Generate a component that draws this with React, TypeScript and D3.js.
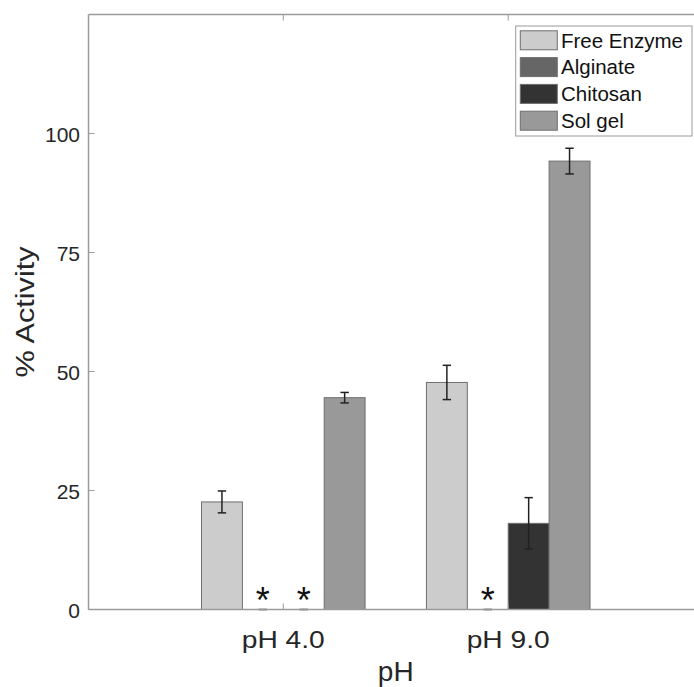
import React from "react";
import * as d3 from "d3";

const categories = ["pH 4.0", "pH 9.0"];
const seriesNames = ["Free Enzyme", "Alginate", "Chitosan", "Sol gel"];
const seriesColors = ["#cccccc", "#666666", "#333333", "#999999"];
const freeEnzyme = [22.6, 47.7];
const alginate = [0, 0];
const chitosan = [0, 18.1];
const solGel = [44.5, 94.2];
const freeEnzymeErr = [2.3, 3.6];
const alginateErr = [0, 0];
const chitosanErr = [0, 5.4];
const solGelErr = [1.1, 2.7];
const alginateStar = [true, true];
const chitosanStar = [true, false];
const freeEnzymeStar = [false, false];
const solGelStar = [false, false];
const yTicks = [0, 25, 50, 75, 100];

const W = 694;
const H = 687;
const L = 88.5;
const R = 703;
const T = 14.5;
const B = 609.5;
const FONT = "'Liberation Sans', Arial, Helvetica, sans-serif";

export default function App() {
  const values = [freeEnzyme, alginate, chitosan, solGel];
  const errs = [freeEnzymeErr, alginateErr, chitosanErr, solGelErr];
  const stars = [freeEnzymeStar, alginateStar, chitosanStar, solGelStar];
  const x = d3.scaleLinear().domain([0.134, 2.866]).range([L, R]);
  const y = d3.scaleLinear().domain([0, 125]).range([B, T]);
  const nS = seriesNames.length;
  const groupW = Math.min(0.8, nS / (nS + 1.5));
  const bw = groupW / nS;
  const axisColor = "#9a9a9a";
  const bars: any[] = [];
  const errBars: any[] = [];
  const starMarks: any[] = [];
  categories.forEach((c, gi) => {
    const gx = gi + 1;
    values.forEach((vals, si) => {
      const cx = gx + (si - (nS - 1) / 2) * bw;
      const x0 = x(cx - bw / 2);
      const x1 = x(cx + bw / 2);
      const v = vals[gi];
      if (v > 0) {
        bars.push(
          <rect key={`b${gi}-${si}`} x={x0} y={y(v)} width={x1 - x0} height={y(0) - y(v)}
            fill={seriesColors[si]} stroke="#6e6e6e" strokeWidth={1} />
        );
      }
      const e = errs[si][gi];
      const px = x(cx);
      const capW = 4.2;
      errBars.push(
        <g key={`e${gi}-${si}`} stroke={v > 0 ? "#222" : "#777"} strokeWidth={1.5}>
          {e > 0 && <line x1={px} x2={px} y1={y(v + e)} y2={y(v - e)} />}
          <line x1={px - capW} x2={px + capW} y1={y(v + e)} y2={y(v + e)} />
          <line x1={px - capW} x2={px + capW} y1={y(v - e)} y2={y(v - e)} />
        </g>
      );
      if (stars[si][gi]) {
        starMarks.push(
          <text key={`s${gi}-${si}`} x={px} y={y(0) + 3} textAnchor="middle" fontSize={36}
            fontFamily={FONT} fill="#111">*</text>
        );
      }
    });
  });

  return (
    <svg width={W} height={H} style={{ position: "absolute", left: 0, top: 0, background: "#fff" }}>
      <rect x={0} y={0} width={W} height={H} fill="#fff" />
      {bars}
      {errBars}
      {starMarks}
      <line x1={L} x2={R} y1={B} y2={B} stroke={axisColor} strokeWidth={1.5} />
      <line x1={L} x2={R} y1={T} y2={T} stroke={axisColor} strokeWidth={1.5} />
      <line x1={L} x2={L} y1={T} y2={B} stroke={axisColor} strokeWidth={1.5} />
      <line x1={R} x2={R} y1={T} y2={B} stroke={axisColor} strokeWidth={1.5} />
      {yTicks.map((t) => (
        <g key={`yt${t}`}>
          <line x1={L} x2={L + 6} y1={y(t)} y2={y(t)} stroke={axisColor} strokeWidth={1} />
          <line x1={R} x2={R - 6} y1={y(t)} y2={y(t)} stroke={axisColor} strokeWidth={1} />
          <text x={80} y={y(t)} dy="0.42em" textAnchor="end" fontSize={21} fontFamily={FONT} fill="#262626">{t}</text>
        </g>
      ))}
      {categories.map((c, i) => (
        <g key={`xt${i}`}>
          <line x1={x(i + 1)} x2={x(i + 1)} y1={B} y2={B - 6} stroke={axisColor} strokeWidth={1} />
          <line x1={x(i + 1)} x2={x(i + 1)} y1={T} y2={T + 6} stroke={axisColor} strokeWidth={1} />
          <text x={x(i + 1)} y={647.5} textAnchor="middle" fontSize={24} fontFamily={FONT} fill="#262626"
            textLength={83} lengthAdjust="spacingAndGlyphs">{c}</text>
        </g>
      ))}
      <text x={(L + R) / 2} y={681} textAnchor="middle" fontSize={28} fontFamily={FONT} fill="#262626">pH</text>
      <text transform={`translate(34,${(T + B) / 2}) rotate(-90)`} textAnchor="middle" fontSize={26}
        fontFamily={FONT} fill="#262626" textLength={131} lengthAdjust="spacingAndGlyphs">% Activity</text>
      <g>
        <rect x={515.7} y={26} width={176.3} height={110} fill="#fff" stroke="#9a9a9a" strokeWidth={1} />
        {seriesNames.map((n, i) => {
          const cy = 40.3 + i * 26.8;
          return (
            <g key={`lg${i}`}>
              <rect x={520.3} y={cy - 9.5} width={37} height={19} fill={seriesColors[i]} stroke="#6e6e6e" strokeWidth={1} />
              <text x={561} y={cy} dy="0.36em" fontSize={20.5} fontFamily={FONT} fill="#111">{n}</text>
            </g>
          );
        })}
      </g>
    </svg>
  );
}
